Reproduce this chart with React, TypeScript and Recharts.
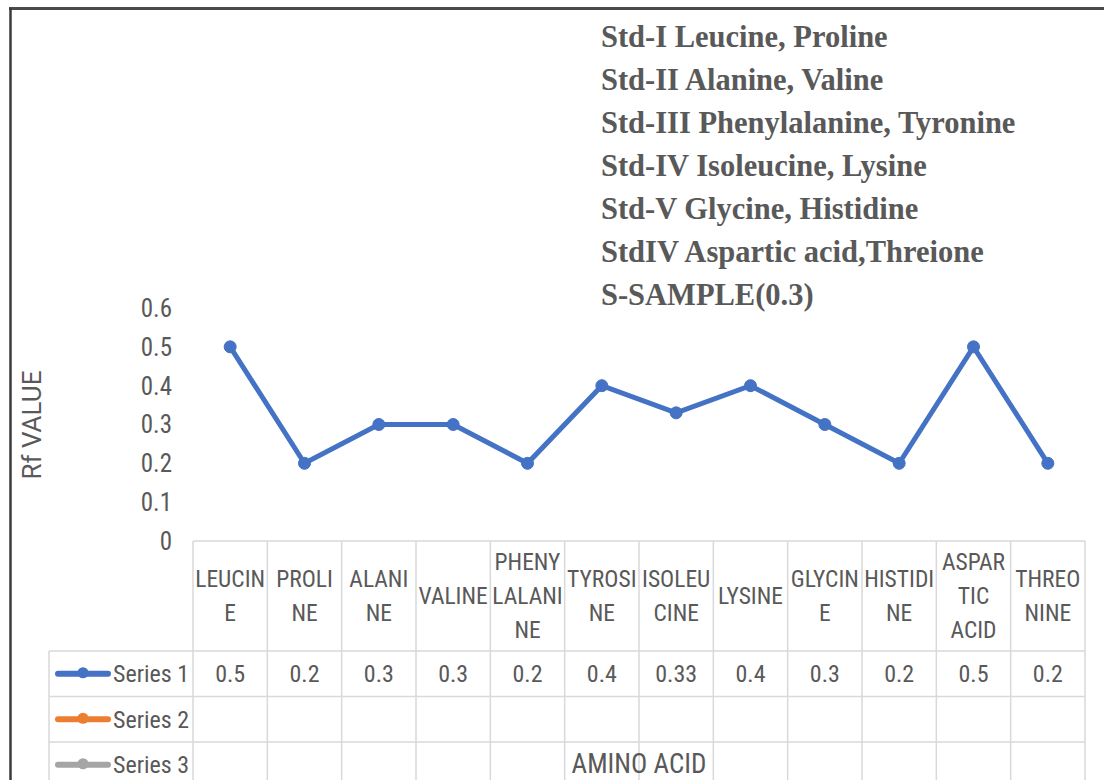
import React from 'react';
import { LineChart, Line, XAxis, YAxis } from 'recharts';

const categories = [
  'LEUCINE', 'PROLINE', 'ALANINE', 'VALINE', 'PHENYLALANINE', 'TYROSINE',
  'ISOLEUCINE', 'LYSINE', 'GLYCINE', 'HISTIDINE', 'ASPARTIC ACID', 'THREONINE',
];

// header cell text, wrapped the way the data table shows it
const categoryLines = [
  ['LEUCIN', 'E'], ['PROLI', 'NE'], ['ALANI', 'NE'], ['VALINE'], ['PHENY', 'LALANI', 'NE'], ['TYROSI', 'NE'],
  ['ISOLEU', 'CINE'], ['LYSINE'], ['GLYCIN', 'E'], ['HISTIDI', 'NE'], ['ASPAR', 'TIC', 'ACID'], ['THREO', 'NINE'],
];

const series1 = [0.5, 0.2, 0.3, 0.3, 0.2, 0.4, 0.33, 0.4, 0.3, 0.2, 0.5, 0.2];
const seriesNames = ['Series 1', 'Series 2', 'Series 3'];
const seriesColors = ['#4472C4', '#ED7D31', '#A5A5A5'];

const yTicks = [0, 0.1, 0.2, 0.3, 0.4, 0.5, 0.6];

const notes = [
  'Std-I Leucine, Proline',
  'Std-II Alanine, Valine',
  'Std-III Phenylalanine, Tyronine',
  'Std-IV Isoleucine, Lysine',
  'Std-V Glycine, Histidine',
  'StdIV Aspartic acid,Threione',
  'S-SAMPLE(0.3)',
];

const data = categories.map((name, i) => ({ name, s1: series1[i] }));

const W = 1104;
const H = 780;
const Y_AXIS_W = 193;
const X_AXIS_H = 239;
const MARGIN = { top: 308, right: 19, bottom: 0, left: 0 };
const COL_W = (W - Y_AXIS_W - MARGIN.right) / categories.length;
const HEADER_H = 110;
const ROW_H = 45.5;
const GRID = '#d9d9d9';
const TEXT = '#595959';
const NARROW = "'Liberation Sans Narrow', 'Roboto Condensed', Roboto, sans-serif";

// each x tick draws its own column of the data table
const TableTick = (props: any) => {
  const { x, y, index } = props;
  const left = x - COL_W / 2;
  const right = x + COL_W / 2;
  const lines = categoryLines[index];
  const mid = y + HEADER_H / 2;
  const lh = 34;
  const first = mid - ((lines.length - 1) * lh) / 2;
  const rowTops = [y + HEADER_H, y + HEADER_H + ROW_H, y + HEADER_H + ROW_H * 2];
  return (
    <g>
      <line x1={left} x2={right} y1={y} y2={y} stroke={GRID} strokeWidth={1.5} />
      {rowTops.map((t, i) => (
        <line key={i} x1={left} x2={right} y1={t} y2={t} stroke={GRID} strokeWidth={1.5} />
      ))}
      {index === 0 && <line x1={left} x2={left} y1={y} y2={H} stroke={GRID} strokeWidth={1.5} />}
      <line x1={right} x2={right} y1={y} y2={H} stroke={GRID} strokeWidth={1.5} />
      {lines.map((s, i) => (
        <text key={i} x={x} y={first + i * lh} dy="0.36em" textAnchor="middle" fill={TEXT}
          fontSize={23.5} fontFamily={NARROW}>{s}</text>
      ))}
      <text x={x} y={rowTops[0] + ROW_H / 2} dy="0.36em" textAnchor="middle" fill={TEXT}
        fontSize={24} fontFamily={NARROW}>{series1[index]}</text>
    </g>
  );
};

const App: React.FC = () => {
  const rowTop = H - X_AXIS_H + HEADER_H;
  return (
    <div style={{ position: 'absolute', left: 0, top: 0, width: W, height: H, background: '#fff', overflow: 'hidden' }}>
      <LineChart width={W} height={H} data={data} margin={MARGIN}>
        <YAxis
          width={Y_AXIS_W}
          domain={[0, 0.6]}
          ticks={yTicks}
          axisLine={false}
          tickLine={false}
          tickSize={0}
          tickMargin={21}
          tick={{ fill: TEXT, fontSize: 25, fontFamily: NARROW }}
        />
        <XAxis
          dataKey="name"
          height={X_AXIS_H}
          interval={0}
          axisLine={false}
          tickLine={false}
          tickSize={0}
          tickMargin={0}
          padding={{ left: COL_W / 2, right: COL_W / 2 }}
          tick={<TableTick />}
        />
        <Line
          dataKey="s1"
          name="Series 1"
          stroke={seriesColors[0]}
          strokeWidth={5}
          dot={{ r: 6, fill: seriesColors[0], stroke: seriesColors[0], strokeWidth: 1 }}
          activeDot={false}
          isAnimationActive={false}
        />
      </LineChart>

      <svg width={W} height={H} style={{ position: 'absolute', left: 0, top: 0, pointerEvents: 'none' }}>
        {/* frame */}
        <line x1={9} x2={W} y1={8.5} y2={8.5} stroke="#4a4a4a" strokeWidth={3} />
        <line x1={10.5} x2={10.5} y1={8} y2={H} stroke="#3a3a3a" strokeWidth={2.5} />

        {/* notes */}
        {notes.map((s, i) => (
          <text key={i} x={601} y={47 + i * 43} fill={TEXT} fontSize={30.5} fontWeight="bold"
            fontFamily="'Liberation Serif', 'Times New Roman', serif">{s}</text>
        ))}

        {/* axis titles */}
        <text x={32} y={425} dy="0.36em" transform="rotate(-90 32 425)" textAnchor="middle" fill={TEXT}
          fontSize={26} fontFamily="Roboto, sans-serif">Rf VALUE</text>
        <text x={639} y={763} dy="0.36em" textAnchor="middle" fill={TEXT}
          fontSize={27} fontFamily={NARROW}>AMINO ACID</text>

        {/* legend column of the data table */}
        <line x1={49} x2={49} y1={rowTop} y2={H} stroke={GRID} strokeWidth={1.5} />
        {seriesNames.map((s, i) => {
          const t = rowTop + i * ROW_H;
          const cy = t + ROW_H / 2;
          return (
            <g key={s}>
              <line x1={49} x2={Y_AXIS_W} y1={t} y2={t} stroke={GRID} strokeWidth={1.5} />
              <line x1={58} x2={108} y1={cy} y2={cy} stroke={seriesColors[i]} strokeWidth={6} strokeLinecap="round" />
              <circle cx={83} cy={cy - 1} r={5.5} fill={seriesColors[i]} />
              <text x={113} y={cy} dy="0.36em" fill={TEXT} fontSize={24} fontFamily={NARROW}>{s}</text>
            </g>
          );
        })}
      </svg>
    </div>
  );
};

export default App;
